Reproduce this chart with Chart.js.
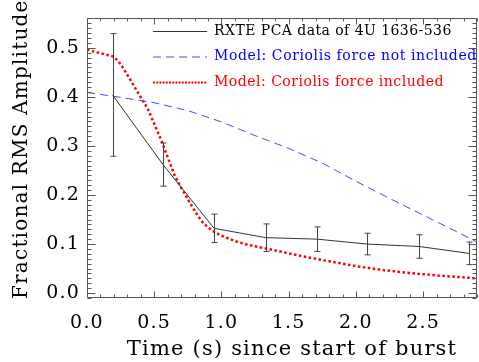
<!DOCTYPE html>
<html><head><meta charset="utf-8">
<script src="https://cdn.jsdelivr.net/npm/chart.js@4"></script>
<style>html,body{margin:0;padding:0;background:#fff}</style>
</head><body>
<canvas id="c" width="479" height="362"></canvas>
<script>
// Observed data: RXTE PCA data of 4U 1636-536
const obsTime = [0.19, 0.565, 0.945, 1.33, 1.71, 2.08, 2.47, 2.84];
const obsAmp  = [0.404, 0.262, 0.132, 0.113, 0.110, 0.100, 0.095, 0.081];
const obsErr  = [0.125, 0.044, 0.029, 0.028, 0.025, 0.022, 0.024, 0.023];
// Model without Coriolis force
const noCorTime = [0, 0.25, 0.5, 0.75, 1.0, 1.25, 1.5, 1.75, 2.0, 2.25, 2.5, 2.75, 2.9];
const noCorAmp  = [0.409, 0.399, 0.388, 0.372, 0.349, 0.321, 0.295, 0.265, 0.228, 0.193, 0.159, 0.125, 0.104];
// Model with Coriolis force
const corTime = [0, 0.1, 0.2, 0.25, 0.3, 0.35, 0.4, 0.45, 0.5, 0.55, 0.6, 0.65, 0.7, 0.75, 0.8, 0.85, 0.9, 0.95, 1.0, 1.1, 1.2, 1.4, 1.6, 1.8, 2.0, 2.2, 2.4, 2.6, 2.9];
const corAmp  = [0.496, 0.489, 0.482, 0.467, 0.445, 0.422, 0.399, 0.377, 0.345, 0.313, 0.277, 0.241, 0.215, 0.191, 0.168, 0.147, 0.134, 0.124, 0.117, 0.106, 0.098, 0.087, 0.075, 0.065, 0.055, 0.047, 0.041, 0.036, 0.030];
// Axes
const xTicks = [0.0, 0.5, 1.0, 1.5, 2.0, 2.5];
const yTicks = [0.0, 0.1, 0.2, 0.3, 0.4, 0.5];
const legendLabels = ['RXTE PCA data of 4U 1636-536', 'Model: Coriolis force not included', 'Model: Coriolis force included'];

const FONT = 'DejaVu Serif';
const toPts = (xs, ys) => xs.map((x, i) => ({x: x, y: ys[i]}));

// nudge an axis title by a few pixels (the original figure's titles are slightly off-centre)
function nudgeTitle(s, dx, dy) {
  if (s._nudged) return;
  const orig = Object.getPrototypeOf(s).drawTitle;
  if (typeof orig !== 'function') return;
  s.drawTitle = function () {
    this.ctx.save(); this.ctx.translate(dx, dy); orig.call(this); this.ctx.restore();
  };
  s._nudged = true;
}

const textSpacing = {
  id: 'textSpacing',
  beforeDraw(chart) { chart.ctx.letterSpacing = '1.2px'; }
};

const errorBars = {
  id: 'errorBars',
  afterDatasetsDraw(chart) {
    const {ctx, scales: {x, y}} = chart;
    ctx.save();
    ctx.strokeStyle = '#444';
    ctx.lineWidth = 1;
    obsTime.forEach((t, i) => {
      const px = Math.round(x.getPixelForValue(t)) + 0.5;
      const top = y.getPixelForValue(obsAmp[i] + obsErr[i]);
      const bot = y.getPixelForValue(obsAmp[i] - obsErr[i]);
      ctx.beginPath();
      ctx.moveTo(px, top); ctx.lineTo(px, bot);
      ctx.moveTo(px - 3, top); ctx.lineTo(px + 3, top);
      ctx.moveTo(px - 3, bot); ctx.lineTo(px + 3, bot);
      ctx.stroke();
    });
    ctx.restore();
  }
};

const frameTicks = {
  id: 'frameTicks',
  afterDraw(chart) {
    const {ctx, chartArea: a, scales: {x, y}} = chart;
    ctx.save();
    ctx.strokeStyle = '#555';
    ctx.lineWidth = 1;
    const L = Math.round(a.left) + 0.5, R = Math.round(a.right) - 0.5;
    const T = Math.round(a.top) + 0.5, B = Math.round(a.bottom) - 0.5;
    ctx.beginPath();
    ctx.rect(L, T, R - L, B - T);
    ctx.stroke();
    ctx.beginPath();
    for (let k = 0; k * 0.1 <= x.max + 1e-9; k++) {
      const px = Math.round(x.getPixelForValue(k * 0.1)) + 0.5;
      const len = (k % 5 === 0) ? 6 : 3;
      ctx.moveTo(px, B); ctx.lineTo(px, B - len);
      ctx.moveTo(px, T); ctx.lineTo(px, T + len);
    }
    for (let k = Math.ceil(y.min / 0.01); k * 0.01 <= y.max + 1e-9; k++) {
      const py = Math.round(y.getPixelForValue(k * 0.01)) + 0.5;
      const len = (k % 10 === 0) ? 8 : 4;
      ctx.moveTo(L, py); ctx.lineTo(L + len, py);
      ctx.moveTo(R, py); ctx.lineTo(R - len, py);
    }
    ctx.stroke();
    ctx.restore();
  }
};

const insideLegend = {
  id: 'insideLegend',
  afterDraw(chart) {
    const {ctx} = chart;
    const items = [
      {c: '#333', w: 1, d: [], tc: '#000', sp: '0.45px'},
      {c: 'rgb(70,70,255)', w: 1, d: [8, 5], tc: '#0000ff', sp: '0.6px'},
      {c: '#ff0000', w: 2, d: [2, 1.2], tc: '#ff0000', sp: '0.5px'}
    ];
    const ys = [31, 56.5, 82];
    ctx.save();
    items.forEach((it, i) => {
      ctx.beginPath();
      ctx.strokeStyle = it.c; ctx.lineWidth = it.w; ctx.setLineDash(it.d);
      ctx.moveTo(153, ys[i] + 0.5); ctx.lineTo(207, ys[i] + 0.5);
      ctx.stroke();
      ctx.setLineDash([]);
      ctx.fillStyle = it.tc;
      ctx.font = '14px "' + FONT + '"';
      ctx.letterSpacing = it.sp;
      ctx.textBaseline = 'middle';
      ctx.fillText(legendLabels[i], 214, ys[i]);
    });
    ctx.restore();
  }
};

new Chart(document.getElementById('c'), {
  type: 'scatter',
  data: {
    datasets: [
      {data: toPts(obsTime, obsAmp), showLine: true, borderColor: '#333', borderWidth: 1, pointRadius: 0, tension: 0},
      {data: toPts(noCorTime, noCorAmp), showLine: true, borderColor: 'rgb(70,70,255)', borderWidth: 1, borderDash: [8, 5], pointRadius: 0, tension: 0},
      {data: toPts(corTime, corAmp), showLine: true, borderColor: '#ff0000', borderWidth: 2.5, borderDash: [2.5, 2.5], borderCapStyle: 'butt', pointRadius: 0, tension: 0}
    ]
  },
  options: {
    responsive: false,
    animation: false,
    layout: {padding: {top: 15, right: 2, left: 0, bottom: 0}},
    plugins: {legend: {display: false}, tooltip: {enabled: false}},
    scales: {
      x: {
        type: 'linear', min: 0, max: 2.9,
        grid: {display: false, drawTicks: false},
        border: {display: false},
        afterBuildTicks: s => { s.ticks = xTicks.map(v => ({value: v})); },
        afterFit: s => { s.height = 64; nudgeTitle(s, 10, 0); },
        ticks: {padding: 14, color: '#000', font: {family: FONT, size: 19}, callback: v => Number(v).toFixed(1), maxRotation: 0},
        title: {display: true, text: 'Time (s) since start of burst', color: '#000', font: {family: FONT, size: 21}, padding: {top: 0, bottom: 0}}
      },
      y: {
        type: 'linear', min: -0.01, max: 0.56,
        grid: {display: false, drawTicks: false},
        border: {display: false},
        afterBuildTicks: s => { s.ticks = yTicks.map(v => ({value: v})); },
        afterFit: s => { s.width = 87; nudgeTitle(s, 0, -9); },
        ticks: {padding: 7, color: '#000', font: {family: FONT, size: 19}, callback: v => Number(v).toFixed(1)},
        title: {display: true, text: 'Fractional RMS Amplitude', color: '#000', font: {family: FONT, size: 20}, padding: {top: 10, bottom: 0}}
      }
    }
  },
  plugins: [textSpacing, errorBars, frameTicks, insideLegend]
});
</script>
</body></html>
